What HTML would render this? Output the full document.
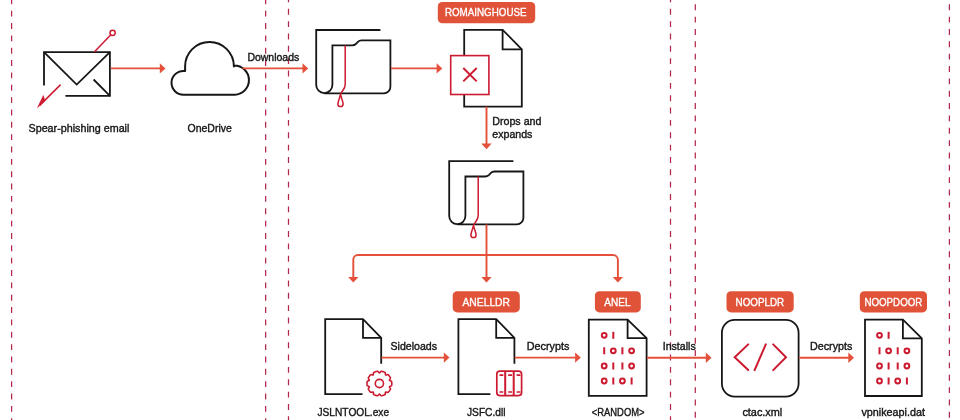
<!DOCTYPE html>
<html><head><meta charset="utf-8"><title>Attack chain</title>
<style>
html,body{margin:0;padding:0;background:#fff;}
body{width:960px;height:420px;overflow:hidden;}
svg{display:block;font-family:"Liberation Sans",sans-serif;}
svg{will-change:transform;}
</style></head><body>
<svg width="960" height="420" viewBox="0 0 960 420">
<rect width="960" height="420" fill="#fff"/>
<path d="M11.6 -1.67V421" stroke="#b3284a" stroke-width="1.25" stroke-dasharray="5.9 6.45" fill="none"/>
<path d="M265.65 -1.67V421" stroke="#b3284a" stroke-width="1.25" stroke-dasharray="5.9 6.45" fill="none"/>
<path d="M288.5 -3.57V421" stroke="#b3284a" stroke-width="1.25" stroke-dasharray="5.9 6.45" fill="none"/>
<path d="M670.5 -3.57V421" stroke="#b3284a" stroke-width="1.25" stroke-dasharray="5.9 6.45" fill="none"/>
<path d="M695.3 -8.05V421" stroke="#b3284a" stroke-width="1.25" stroke-dasharray="5.9 6.45" fill="none"/>
<path d="M949.4 -8.05V421" stroke="#b3284a" stroke-width="1.25" stroke-dasharray="5.9 6.45" fill="none"/>
<g fill="none" stroke="#161616" stroke-width="1.8">
<path d="M44 85.4V52.2H109.9V95.9H65.4"/>
<path d="M44 52.2L76.7 84.6L109.9 52.2"/>
<path d="M93.6 79.5L109.9 95.9"/>
</g>
<g fill="none" stroke="#cc1a30" stroke-width="1.5">
<path d="M94.3 52L110.6 34.9"/>
<circle cx="112.6" cy="32.8" r="2.6"/>
<path d="M60.6 84.6L39.5 105.6"/>
</g>
<path d="M37.6 107.5L43.3 95.6L44.8 100.6Z" fill="#cc1a30" stroke="#cc1a30" stroke-width="0.6" stroke-linejoin="round"/>
<path d="M110.8 68.4H160.5" stroke="#e4503a" stroke-width="1.9" fill="none"/>
<path d="M159.8 63.2L165.5 68.4L159.8 73.60000000000001Z" fill="#e4503a"/>
<text x="28.5" y="131.9" font-size="11.5" fill="#161616" stroke="#161616" stroke-width="0.4" textLength="100.9" lengthAdjust="spacingAndGlyphs">Spear-phishing email</text>
<path d="M183.4 94.7A11.9 11.9 0 0 1 183.4 70.9H185.1V66.4A24.4 24.4 0 0 1 233.9 66.4L233.9 65.5A14.6 14.6 0 0 1 234.8 94.7Z" fill="none" stroke="#161616" stroke-width="2" stroke-linejoin="round"/>
<text x="187.6" y="132.0" font-size="11.5" fill="#161616" stroke="#161616" stroke-width="0.4" textLength="44.2" lengthAdjust="spacingAndGlyphs">OneDrive</text>
<path d="M242.5 68.4H303.2" stroke="#e4503a" stroke-width="1.9" fill="none"/>
<path d="M302.5 63.2L308.2 68.4L302.5 73.60000000000001Z" fill="#e4503a"/>
<text x="247.4" y="60.7" font-size="11.5" fill="#161616" stroke="#161616" stroke-width="0.4" textLength="51.9" lengthAdjust="spacingAndGlyphs">Downloads</text>
<g transform="translate(0 0)" fill="none" stroke-width="1.8">
<path d="M380.4 30H316.2V85A8.1 8.1 0 0 0 332.4 85V45.4H352.2Q354.4 45.4 355.8 44L357.9 41.8Q359.3 40.4 361.5 40.4H390.4V86.7A6.6 6.6 0 0 1 383.8 93.3H324.3" stroke="#161616"/>
<path d="M345.2 45.4V84.5C345.2 89.5 342 90.5 340.5 94.2C339.8 98 337.9 101.5 337.9 103.9A2.6 2.6 0 0 0 343.1 103.9C343.1 101.5 341.2 98 340.5 94.2" stroke="#cc1a30" stroke-width="1.5"/>
</g>
<path d="M391 68.4H437.3" stroke="#e4503a" stroke-width="1.9" fill="none"/>
<path d="M436.6 63.2L442.3 68.4L436.6 73.60000000000001Z" fill="#e4503a"/>
<rect x="437.8" y="1.9" width="97.4" height="21.3" rx="4.5" fill="#e05339"/>
<text x="444.9" y="15.8" font-size="11" fill="#fff" stroke="#fff" stroke-width="0.35" textLength="81.7" lengthAdjust="spacingAndGlyphs">ROMAINGHOUSE</text>
<g fill="none" stroke="#161616" stroke-width="1.8" stroke-linejoin="miter">
<path d="M464.2 55.6V29.8H502.6L521.8 49.3V106.7H464.2V94.5"/>
<path d="M502.6 29.8V49.3H521.8"/>
</g>
<rect x="450.7" y="55.6" width="38.2" height="38.9" fill="none" stroke="#cc1a30" stroke-width="1.6"/>
<path d="M463.3 68L476.7 81.4M476.7 68L463.3 81.4" stroke="#cc1a30" stroke-width="1.9" fill="none"/>
<path d="M486.5 106.7V144" stroke="#e4503a" stroke-width="1.9" fill="none"/>
<path d="M481.3 143.60000000000002L486.5 149.3L491.7 143.60000000000002Z" fill="#e4503a"/>
<text x="492.3" y="125.3" font-size="11.5" fill="#161616" stroke="#161616" stroke-width="0.4" textLength="49.1" lengthAdjust="spacingAndGlyphs">Drops and</text>
<text x="492.3" y="138.2" font-size="11.5" fill="#161616" stroke="#161616" stroke-width="0.4" textLength="40.1" lengthAdjust="spacingAndGlyphs">expands</text>
<g transform="translate(133 131.1)" fill="none" stroke-width="1.8">
<path d="M380.4 30H316.2V85A8.1 8.1 0 0 0 332.4 85V45.4H352.2Q354.4 45.4 355.8 44L357.9 41.8Q359.3 40.4 361.5 40.4H390.4V86.7A6.6 6.6 0 0 1 383.8 93.3H324.3" stroke="#161616"/>
<path d="M345.2 45.4V84.5C345.2 89.5 342 90.5 340.5 94.2C339.8 98 337.9 101.5 337.9 103.9A2.6 2.6 0 0 0 343.1 103.9C343.1 101.5 341.2 98 340.5 94.2" stroke="#cc1a30" stroke-width="1.5"/>
</g>
<path d="M486.5 224.5V278M353.3 278V259.5A4.5 4.5 0 0 1 357.8 255H612.9A5 5 0 0 1 617.9 260V278" stroke="#e4503a" stroke-width="1.9" fill="none"/>
<path d="M348.1 276.90000000000003L353.3 282.6L358.5 276.90000000000003Z" fill="#e4503a"/>
<path d="M481.3 276.90000000000003L486.5 282.6L491.7 276.90000000000003Z" fill="#e4503a"/>
<path d="M612.6999999999999 276.90000000000003L617.9 282.6L623.1 276.90000000000003Z" fill="#e4503a"/>
<g fill="none" stroke="#161616" stroke-width="1.8" stroke-linejoin="miter">
<path d="M381.2 363.7V337.8L363 319.2H325.2V394.1H362.5"/>
<path d="M363 319.2V337.8H381.2"/>
</g>
<path d="M391.80 383.50L391.80 383.72L391.79 383.93L391.78 384.15L391.77 384.36L391.75 384.58L391.73 384.80L391.71 385.01L391.68 385.23L391.64 385.44L391.52 385.64L391.31 385.81L391.03 385.97L390.70 386.11L390.36 386.23L390.04 386.35L389.78 386.48L389.58 386.61L389.48 386.78L389.47 386.97L389.54 387.19L389.69 387.45L389.87 387.73L390.07 388.03L390.26 388.33L390.40 388.63L390.46 388.90L390.44 389.13L390.35 389.32L390.25 389.51L390.14 389.70L390.03 389.89L389.92 390.07L389.80 390.25L389.68 390.43L389.56 390.61L389.43 390.79L389.30 390.96L389.17 391.13L389.04 391.30L388.90 391.47L388.76 391.64L388.61 391.80L388.47 391.96L388.32 392.11L388.16 392.26L387.95 392.35L387.67 392.37L387.35 392.33L387.01 392.25L386.66 392.15L386.33 392.06L386.05 392.01L385.81 392.01L385.63 392.08L385.51 392.22L385.44 392.45L385.40 392.74L385.39 393.08L385.37 393.44L385.34 393.79L385.28 394.11L385.18 394.37L385.03 394.54L384.84 394.65L384.64 394.74L384.44 394.83L384.25 394.91L384.05 395.00L383.84 395.08L383.64 395.15L383.44 395.22L383.23 395.29L383.03 395.36L382.82 395.42L382.61 395.48L382.40 395.53L382.19 395.58L381.98 395.63L381.77 395.67L381.55 395.71L381.34 395.74L381.11 395.69L380.88 395.54L380.64 395.32L380.41 395.05L380.19 394.77L379.98 394.50L379.78 394.29L379.59 394.15L379.40 394.10L379.21 394.15L379.02 394.29L378.82 394.50L378.61 394.77L378.39 395.05L378.16 395.32L377.92 395.54L377.69 395.69L377.46 395.74L377.25 395.71L377.03 395.67L376.82 395.63L376.61 395.58L376.40 395.53L376.19 395.48L375.98 395.42L375.77 395.36L375.57 395.29L375.36 395.22L375.16 395.15L374.96 395.08L374.75 395.00L374.55 394.91L374.36 394.83L374.16 394.74L373.96 394.65L373.77 394.54L373.62 394.37L373.52 394.11L373.46 393.79L373.43 393.44L373.41 393.08L373.40 392.74L373.36 392.45L373.29 392.22L373.17 392.08L372.99 392.01L372.75 392.01L372.47 392.06L372.14 392.15L371.79 392.25L371.45 392.33L371.13 392.37L370.85 392.35L370.64 392.26L370.48 392.11L370.33 391.96L370.19 391.80L370.04 391.64L369.90 391.47L369.76 391.30L369.63 391.13L369.50 390.96L369.37 390.79L369.24 390.61L369.12 390.43L369.00 390.25L368.88 390.07L368.77 389.89L368.66 389.70L368.55 389.51L368.45 389.32L368.36 389.13L368.34 388.90L368.40 388.63L368.54 388.33L368.73 388.03L368.93 387.73L369.11 387.45L369.26 387.19L369.33 386.97L369.32 386.78L369.22 386.61L369.02 386.48L368.76 386.35L368.44 386.23L368.10 386.11L367.77 385.97L367.49 385.81L367.28 385.64L367.16 385.44L367.12 385.23L367.09 385.01L367.07 384.80L367.05 384.58L367.03 384.36L367.02 384.15L367.01 383.93L367.00 383.72L367.00 383.50L367.00 383.28L367.01 383.07L367.02 382.85L367.03 382.64L367.05 382.42L367.07 382.20L367.09 381.99L367.12 381.77L367.16 381.56L367.28 381.36L367.49 381.19L367.77 381.03L368.10 380.89L368.44 380.77L368.76 380.65L369.02 380.52L369.22 380.39L369.32 380.22L369.33 380.03L369.26 379.81L369.11 379.55L368.93 379.27L368.73 378.97L368.54 378.67L368.40 378.37L368.34 378.10L368.36 377.87L368.45 377.68L368.55 377.49L368.66 377.30L368.77 377.11L368.88 376.93L369.00 376.75L369.12 376.57L369.24 376.39L369.37 376.21L369.50 376.04L369.63 375.87L369.76 375.70L369.90 375.53L370.04 375.36L370.19 375.20L370.33 375.04L370.48 374.89L370.64 374.74L370.85 374.65L371.13 374.63L371.45 374.67L371.79 374.75L372.14 374.85L372.47 374.94L372.75 374.99L372.99 374.99L373.17 374.92L373.29 374.78L373.36 374.55L373.40 374.26L373.41 373.92L373.43 373.56L373.46 373.21L373.52 372.89L373.62 372.63L373.77 372.46L373.96 372.35L374.16 372.26L374.36 372.17L374.55 372.09L374.75 372.00L374.96 371.92L375.16 371.85L375.36 371.78L375.57 371.71L375.77 371.64L375.98 371.58L376.19 371.52L376.40 371.47L376.61 371.42L376.82 371.37L377.03 371.33L377.25 371.29L377.46 371.26L377.69 371.31L377.92 371.46L378.16 371.68L378.39 371.95L378.61 372.23L378.82 372.50L379.02 372.71L379.21 372.85L379.40 372.90L379.59 372.85L379.78 372.71L379.98 372.50L380.19 372.23L380.41 371.95L380.64 371.68L380.88 371.46L381.11 371.31L381.34 371.26L381.55 371.29L381.77 371.33L381.98 371.37L382.19 371.42L382.40 371.47L382.61 371.52L382.82 371.58L383.03 371.64L383.23 371.71L383.44 371.78L383.64 371.85L383.84 371.92L384.05 372.00L384.25 372.09L384.44 372.17L384.64 372.26L384.84 372.35L385.03 372.46L385.18 372.63L385.28 372.89L385.34 373.21L385.37 373.56L385.39 373.92L385.40 374.26L385.44 374.55L385.51 374.78L385.63 374.92L385.81 374.99L386.05 374.99L386.33 374.94L386.66 374.85L387.01 374.75L387.35 374.67L387.67 374.63L387.95 374.65L388.16 374.74L388.32 374.89L388.47 375.04L388.61 375.20L388.76 375.36L388.90 375.53L389.04 375.70L389.17 375.87L389.30 376.04L389.43 376.21L389.56 376.39L389.68 376.57L389.80 376.75L389.92 376.93L390.03 377.11L390.14 377.30L390.25 377.49L390.35 377.68L390.44 377.87L390.46 378.10L390.40 378.37L390.26 378.67L390.07 378.97L389.87 379.27L389.69 379.55L389.54 379.81L389.47 380.03L389.48 380.22L389.58 380.39L389.78 380.52L390.04 380.65L390.36 380.77L390.70 380.89L391.03 381.03L391.31 381.19L391.52 381.36L391.64 381.56L391.68 381.77L391.71 381.99L391.73 382.20L391.75 382.42L391.77 382.64L391.78 382.85L391.79 383.07L391.80 383.28L391.80 383.50Z" fill="none" stroke="#cc1a30" stroke-width="1.6" stroke-linejoin="round"/>
<circle cx="379.4" cy="383.5" r="4.1" fill="none" stroke="#cc1a30" stroke-width="1.6"/>
<text x="317.5" y="415.6" font-size="11.5" fill="#161616" stroke="#161616" stroke-width="0.4" textLength="71.6" lengthAdjust="spacingAndGlyphs">JSLNTOOL.exe</text>
<path d="M381.5 357.6H444.5" stroke="#e4503a" stroke-width="1.9" fill="none"/>
<path d="M443.8 352.40000000000003L449.5 357.6L443.8 362.8Z" fill="#e4503a"/>
<text x="390.5" y="350.0" font-size="11.5" fill="#161616" stroke="#161616" stroke-width="0.4" textLength="46.5" lengthAdjust="spacingAndGlyphs">Sideloads</text>
<rect x="452.7" y="291.2" width="67.1" height="21.2" rx="4.5" fill="#e05339"/>
<text x="462.5" y="305.5" font-size="11" fill="#fff" stroke="#fff" stroke-width="0.35" textLength="47.5" lengthAdjust="spacingAndGlyphs">ANELLDR</text>
<g fill="none" stroke="#161616" stroke-width="1.8" stroke-linejoin="miter">
<path d="M514.4 363.7V337.8L496.2 319.2H458.4V394.1H490.4"/>
<path d="M496.2 319.2V337.8H514.4"/>
</g>
<g fill="none" stroke="#cc1a30" stroke-width="1.4">
<rect x="496.8" y="371.2" width="24.8" height="24.4" rx="3" stroke-width="1.7"/>
<path d="M505.2 371.2V395.6M513.7 371.2V395.6" stroke-width="2"/>
<path d="M499.5 375.1H503.3M499.5 392H503.3" stroke-width="1.6"/>
<path d="M508.2 375.1H512.0M508.2 392H512.0" stroke-width="1.6"/>
<path d="M516.6 375.1H520.4M516.6 392H520.4" stroke-width="1.6"/>
</g>
<text x="467.0" y="415.6" font-size="11.5" fill="#161616" stroke="#161616" stroke-width="0.4" textLength="38.5" lengthAdjust="spacingAndGlyphs">JSFC.dll</text>
<path d="M514.8 357.6H575.8" stroke="#e4503a" stroke-width="1.9" fill="none"/>
<path d="M575.0999999999999 352.40000000000003L580.8 357.6L575.0999999999999 362.8Z" fill="#e4503a"/>
<text x="526.8" y="350.0" font-size="11.5" fill="#161616" stroke="#161616" stroke-width="0.4" textLength="42.5" lengthAdjust="spacingAndGlyphs">Decrypts</text>
<rect x="594.9" y="291.2" width="45.9" height="21.2" rx="4.5" fill="#e05339"/>
<text x="604.3" y="305.5" font-size="11" fill="#fff" stroke="#fff" stroke-width="0.35" textLength="26.2" lengthAdjust="spacingAndGlyphs">ANEL</text>
<g fill="none" stroke="#161616" stroke-width="1.8" stroke-linejoin="miter">
<path d="M627.6 319.7H588.8V395.8H646.6V338.2Z"/>
<path d="M627.6 319.7V338.2H646.6"/>
</g>
<g fill="none" stroke="#cc1a30" stroke-width="2">
<circle cx="604.2" cy="335.3" r="2.4"/>
<path d="M613.3 331.8V338.8"/>
<path d="M604.2 347.3V354.3"/>
<circle cx="613.3" cy="350.8" r="2.4"/>
<path d="M622.4 347.3V354.3"/>
<circle cx="631.6" cy="350.8" r="2.4"/>
<circle cx="604.2" cy="366.0" r="2.4"/>
<path d="M613.3 362.5V369.5"/>
<path d="M622.4 362.5V369.5"/>
<circle cx="631.6" cy="366.0" r="2.4"/>
<circle cx="604.2" cy="381.0" r="2.4"/>
<path d="M613.3 377.5V384.5"/>
<circle cx="622.4" cy="381.0" r="2.4"/>
<path d="M631.6 377.5V384.5"/>
</g>
<text x="591.8" y="415.6" font-size="11.5" fill="#161616" stroke="#161616" stroke-width="0.4" textLength="52.7" lengthAdjust="spacingAndGlyphs">&lt;RANDOM&gt;</text>
<path d="M647 357.8H706.5" stroke="#e4503a" stroke-width="1.9" fill="none"/>
<path d="M705.8 352.6L711.5 357.8L705.8 363.0Z" fill="#e4503a"/>
<text x="662.7" y="350.2" font-size="11.5" fill="#161616" stroke="#161616" stroke-width="0.4" textLength="33.0" lengthAdjust="spacingAndGlyphs">Installs</text>
<rect x="726.5" y="291.2" width="67.2" height="21.2" rx="4.5" fill="#e05339"/>
<text x="735.6" y="305.5" font-size="11" fill="#fff" stroke="#fff" stroke-width="0.35" textLength="48.6" lengthAdjust="spacingAndGlyphs">NOOPLDR</text>
<rect x="721.9" y="319.9" width="76.7" height="76.7" rx="12.8" fill="none" stroke="#161616" stroke-width="1.8"/>
<path d="M748.2 344.4L734.7 357.3L748.2 370.1M754.6 370.1L765.8 344.4M773.2 344.4L786 357.3L773.2 370.1" fill="none" stroke="#cc1a30" stroke-width="2" stroke-linecap="round"/>
<text x="742.4" y="415.6" font-size="11.5" fill="#161616" stroke="#161616" stroke-width="0.4" textLength="39.9" lengthAdjust="spacingAndGlyphs">ctac.xml</text>
<path d="M799.2 357.8H849" stroke="#e4503a" stroke-width="1.9" fill="none"/>
<path d="M848.3 352.6L854 357.8L848.3 363.0Z" fill="#e4503a"/>
<text x="810.0" y="350.2" font-size="11.5" fill="#161616" stroke="#161616" stroke-width="0.4" textLength="42.3" lengthAdjust="spacingAndGlyphs">Decrypts</text>
<rect x="859.8" y="291.2" width="67.2" height="21.2" rx="4.5" fill="#e05339"/>
<text x="864.4" y="305.5" font-size="11" fill="#fff" stroke="#fff" stroke-width="0.35" textLength="58.0" lengthAdjust="spacingAndGlyphs">NOOPDOOR</text>
<g fill="none" stroke="#161616" stroke-width="1.8" stroke-linejoin="miter">
<path d="M902.9 319.7H865.0V396H921.8V338.3Z"/>
<path d="M902.9 319.7V338.3H921.8"/>
</g>
<g fill="none" stroke="#cc1a30" stroke-width="2">
<circle cx="879.5" cy="335.3" r="2.4"/>
<path d="M888.6 331.8V338.8"/>
<path d="M879.5 347.3V354.3"/>
<circle cx="888.6" cy="350.8" r="2.4"/>
<path d="M897.7 347.3V354.3"/>
<circle cx="906.9" cy="350.8" r="2.4"/>
<circle cx="879.5" cy="366.0" r="2.4"/>
<path d="M888.6 362.5V369.5"/>
<path d="M897.7 362.5V369.5"/>
<circle cx="906.9" cy="366.0" r="2.4"/>
<circle cx="879.5" cy="381.0" r="2.4"/>
<path d="M888.6 377.5V384.5"/>
<circle cx="897.7" cy="381.0" r="2.4"/>
<path d="M906.9 377.5V384.5"/>
</g>
<text x="861.4" y="415.6" font-size="11.5" fill="#161616" stroke="#161616" stroke-width="0.4" textLength="63.6" lengthAdjust="spacingAndGlyphs">vpnikeapi.dat</text>
</svg>
</body></html>
